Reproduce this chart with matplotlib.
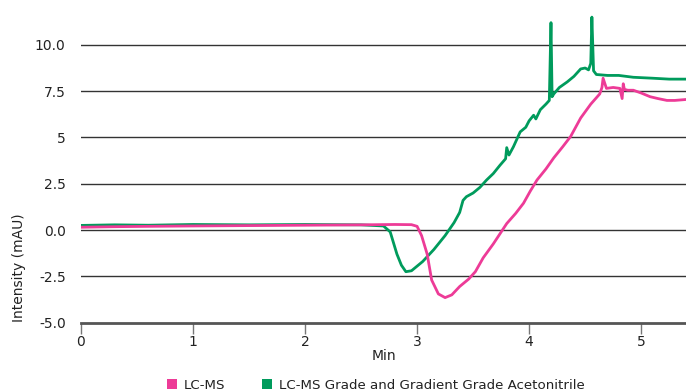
import matplotlib
matplotlib.use("Agg")
import matplotlib.pyplot as plt
from matplotlib.patches import Patch

# Baseline drift traces (UV absorbance, mAU) over run time (min)
lcms_time = [0.00, 0.30, 0.60, 1.00, 1.50, 2.00, 2.50, 2.80, 2.95, 3.00, 3.04,
             3.09, 3.13, 3.19, 3.25, 3.31, 3.38, 3.46, 3.52, 3.59, 3.68, 3.74,
             3.80, 3.88, 3.95, 4.01, 4.07, 4.15, 4.22, 4.30, 4.37, 4.46, 4.55,
             4.63, 4.65, 4.66, 4.69, 4.75, 4.81, 4.83, 4.84, 4.85, 4.88, 4.93,
             5.00, 5.08, 5.15, 5.23, 5.30, 5.40]
lcms_value = [0.15, 0.18, 0.20, 0.22, 0.24, 0.26, 0.28, 0.30, 0.29, 0.20, -0.30,
              -1.30, -2.70, -3.45, -3.65, -3.50, -3.05, -2.65, -2.25, -1.50, -0.75, -0.20,
              0.35, 0.90, 1.45, 2.10, 2.70, 3.30, 3.90, 4.50, 5.05, 6.05, 6.80,
              7.35, 7.70, 8.20, 7.65, 7.70, 7.65, 7.10, 7.90, 7.60, 7.55, 7.55,
              7.40, 7.20, 7.10, 7.00, 7.00, 7.05]

acn_time = [0.00, 0.30, 0.60, 1.00, 1.50, 2.00, 2.50, 2.70, 2.76, 2.82, 2.86,
            2.90, 2.95, 3.05, 3.15, 3.25, 3.33, 3.38, 3.41, 3.44, 3.50, 3.56,
            3.62, 3.68, 3.74, 3.79, 3.80, 3.82, 3.86, 3.92, 3.97, 4.00, 4.04,
            4.06, 4.10, 4.15, 4.18, 4.195, 4.205, 4.22, 4.27, 4.34, 4.40, 4.46,
            4.50, 4.53, 4.55, 4.56, 4.575, 4.60, 4.70, 4.80, 4.93, 5.10, 5.25, 5.40]
acn_value = [0.25, 0.28, 0.26, 0.30, 0.28, 0.30, 0.28, 0.22, -0.10, -1.30, -1.90,
             -2.25, -2.20, -1.70, -1.05, -0.30, 0.40, 0.95, 1.60, 1.80, 2.00, 2.30,
             2.70, 3.05, 3.50, 3.85, 4.45, 4.05, 4.50, 5.30, 5.55, 5.90, 6.20,
             6.00, 6.50, 6.80, 7.00, 11.20, 7.20, 7.35, 7.70, 8.00, 8.30, 8.70,
             8.75, 8.65, 9.00, 11.50, 8.60, 8.40, 8.35, 8.35, 8.25, 8.20, 8.15, 8.15]

x_ticks = [0, 1, 2, 3, 4, 5]
y_ticks = [-5.0, -2.5, 0.0, 2.5, 5.0, 7.5, 10.0]
y_tick_labels = ["-5.0", "-2.5", "0.0", "2.5", "5", "7.5", "10.0"]
series_names = ["LC-MS", "LC-MS Grade and Gradient Grade Acetonitrile"]
pink = "#ED3B97"
green = "#009B5C"

plt.rcParams["font.family"] = ["DejaVu Sans"]
fig = plt.figure(figsize=(6.86, 3.92), dpi=100)
ax = fig.add_axes([0.118, 0.177, 0.882, 0.803])

for y in y_ticks[1:]:
    ax.axhline(y, color="#333333", lw=1.0, zorder=1)

ax.plot(lcms_time, lcms_value, color=pink, lw=2.0, zorder=3, solid_joinstyle="round")
ax.plot(acn_time, acn_value, color=green, lw=2.0, zorder=2, solid_joinstyle="round")

ax.set_xlim(0, 5.40)
ax.set_ylim(-5.0, 12.0)
ax.set_xticks(x_ticks)
ax.set_yticks(y_ticks)
ax.set_yticklabels(y_tick_labels)
ax.tick_params(axis="y", length=0, pad=11, labelsize=10, colors="#222222")
ax.tick_params(axis="x", length=8, width=1.0, color="#777777", labelsize=10,
               labelcolor="#222222", pad=1)

for side in ["top", "right", "left"]:
    ax.spines[side].set_visible(False)
ax.spines["bottom"].set_color("#555555")
ax.spines["bottom"].set_linewidth(2.0)

ax.set_xlabel("Min", fontsize=10, color="#222222", labelpad=0)
ax.set_ylabel("Intensity (mAU)", fontsize=10, color="#222222")
ax.yaxis.set_label_coords(-0.091, 0.176)

handles = [Patch(facecolor=pink, edgecolor="none"), Patch(facecolor=green, edgecolor="none")]
fig.legend(handles, series_names, loc="lower center", bbox_to_anchor=(0.548, -0.03),
           ncol=2, frameon=False, fontsize=9.6, handlelength=0.75, handleheight=0.75,
           handletextpad=0.5, columnspacing=2.8, labelcolor="#222222")

fig.savefig("out.png", dpi=100)
